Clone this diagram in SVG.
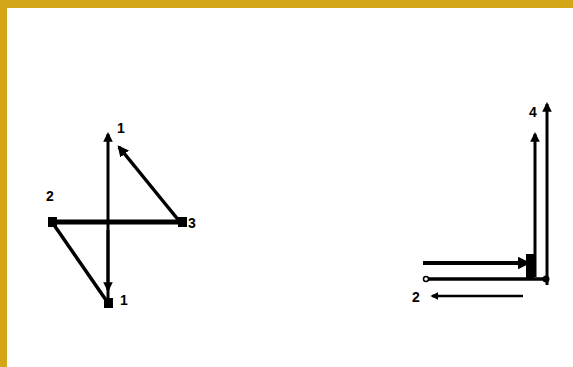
<svg xmlns="http://www.w3.org/2000/svg" width="573" height="367" viewBox="0 0 573 367">
  <defs>
    <style>
      .ln { stroke: #000; fill: none; stroke-linecap: butt; }
      .lbl { font-family: "Liberation Sans", Arial, sans-serif; font-weight: bold; font-size: 14px; fill: #000; text-anchor: middle; }
      .node { fill: #000; }
    </style>
    <marker id="ah" viewBox="0 0 10 10" refX="8" refY="5" markerWidth="3.2" markerHeight="3.2" orient="auto" markerUnits="strokeWidth">
      <path d="M0,0 L10,5 L0,10 z" fill="#000"/>
    </marker>
  </defs>
  <rect x="0" y="0" width="573" height="367" fill="#fff"/>
  <rect x="0" y="0" width="573" height="8" fill="#D4A617"/>
  <rect x="0" y="0" width="7" height="367" fill="#D4A617"/>

  <g id="connectors">
    <!-- left figure -->
    <line class="ln" x1="108" y1="300" x2="108" y2="134" stroke-width="3" marker-end="url(#ah)"/>
    <line class="ln" x1="108" y1="230" x2="108" y2="290" stroke-width="3" marker-end="url(#ah)"/>
    <line class="ln" x1="180" y1="222" x2="119" y2="147" stroke-width="3.5" marker-end="url(#ah)"/>
    <line class="ln" x1="52" y1="222" x2="185" y2="222" stroke-width="5"/>
    <line class="ln" x1="52" y1="222" x2="108" y2="303" stroke-width="3.5"/>
    <!-- right figure -->
    <line class="ln" x1="547" y1="285" x2="547" y2="104" stroke-width="3" marker-end="url(#ah)"/>
    <line class="ln" x1="535" y1="277" x2="535" y2="134" stroke-width="3" marker-end="url(#ah)"/>
    <line class="ln" x1="423" y1="263" x2="528" y2="263" stroke-width="4" marker-end="url(#ah)"/>
    <line class="ln" x1="428" y1="279" x2="547" y2="279" stroke-width="3.5"/>
    <line class="ln" x1="523" y1="296" x2="432" y2="296" stroke-width="2.5" marker-end="url(#ah)"/>
  </g>

  <g id="n1-top">
    <text class="lbl" x="121" y="133">1</text>
  </g>
  <g id="n2-left">
    <rect class="node" x="48" y="217" width="9" height="10"/>
    <text class="lbl" x="50" y="201">2</text>
  </g>
  <g id="n3-right">
    <rect class="node" x="178" y="217" width="9" height="10"/>
    <text class="lbl" x="192" y="228">3</text>
  </g>
  <g id="n1-bottom">
    <rect class="node" x="104" y="298" width="9" height="10"/>
    <text class="lbl" x="124" y="305">1</text>
  </g>
  <g id="r-corner">
    <rect class="node" x="526" y="254" width="8" height="24"/>
    <circle cx="546" cy="279" r="3.5" class="node"/>
    <circle cx="426" cy="279" r="2.5" fill="#fff" stroke="#000" stroke-width="1.5"/>
  </g>
  <g id="r4">
    <text class="lbl" x="533" y="117">4</text>
  </g>
  <g id="r2">
    <text class="lbl" x="416" y="302">2</text>
  </g>
</svg>
